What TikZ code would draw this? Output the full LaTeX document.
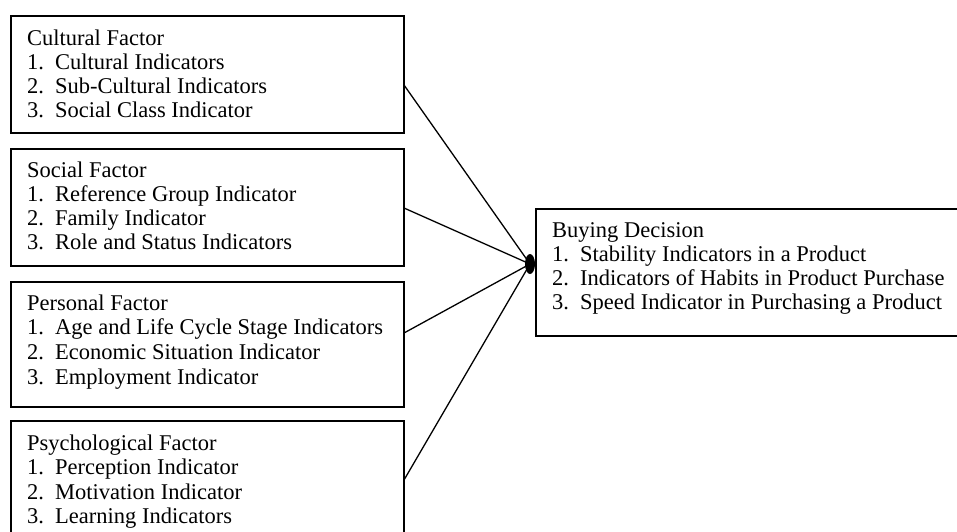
\documentclass[tikz,border=0pt]{standalone}
\usepackage{fontspec}
\setmainfont{Liberation Serif}
\usetikzlibrary{shapes.geometric}
\begin{document}
\begin{tikzpicture}[x=1pt,y=-1pt,
  framebox/.style={draw=black, line width=2pt, inner sep=0pt, anchor=north west},
  txt/.style={anchor=base west, inner sep=0pt, font=\fontsize{22.5}{24.5}\selectfont},
  link/.style={draw=black, line width=1.3pt}]
\newcommand{\itm}[2]{\hbox{\makebox[28pt][l]{#1}#2}}
\useasboundingbox (0,0) rectangle (957,531);
\clip (0,0) rectangle (957,531);
% left boxes
\node[framebox, minimum width=393pt, minimum height=117pt] (b1) at (10,15) {};
\node[framebox, minimum width=393pt, minimum height=117pt] (b2) at (10,148) {};
\node[framebox, minimum width=393pt, minimum height=125pt] (b3) at (10,281) {};
\node[framebox, minimum width=393pt, minimum height=130pt] (b4) at (10,420) {};
\node[framebox, minimum width=440pt, minimum height=127pt] (bd) at (535,208) {};
% texts
\node[txt] (t1) at (27,45) {\vtop{\baselineskip=24.3pt\hbox{Cultural Factor}\itm{1.}{Cultural Indicators}\itm{2.}{Sub-Cultural Indicators}\itm{3.}{Social Class Indicator}}};
\node[txt] (t2) at (27,177) {\vtop{\baselineskip=24.3pt\hbox{Social Factor}\itm{1.}{Reference Group Indicator}\itm{2.}{Family Indicator}\itm{3.}{Role and Status Indicators}}};
\node[txt] (t3) at (27,310) {\vtop{\baselineskip=24.8pt\hbox{Personal Factor}\itm{1.}{Age and Life Cycle Stage Indicators}\itm{2.}{Economic Situation Indicator}\itm{3.}{Employment Indicator}}};
\node[txt] (t4) at (27,450) {\vtop{\baselineskip=24.5pt\hbox{Psychological Factor}\itm{1.}{Perception Indicator}\itm{2.}{Motivation Indicator}\itm{3.}{Learning Indicators}}};
\node[txt] (td) at (552,237) {\vtop{\baselineskip=24pt\hbox{Buying Decision}\itm{1.}{Stability Indicators in a Product}\itm{2.}{Indicators of Habits in Product Purchase}\itm{3.}{Speed Indicator in Purchasing a Product}}};
% connector start points on box edges
\coordinate (s1) at (404,85);
\coordinate (s2) at (404,208);
\coordinate (s3) at (404,333);
\coordinate (s4) at (404,480);
\node[ellipse, fill=black, inner sep=0pt, minimum width=10pt, minimum height=20pt] (hub) at (530,264) {};
\draw[link] (s1) -- (hub.center);
\draw[link] (s2) -- (hub.center);
\draw[link] (s3) -- (hub.center);
\draw[link] (s4) -- (hub.center);
\end{tikzpicture}
\end{document}
